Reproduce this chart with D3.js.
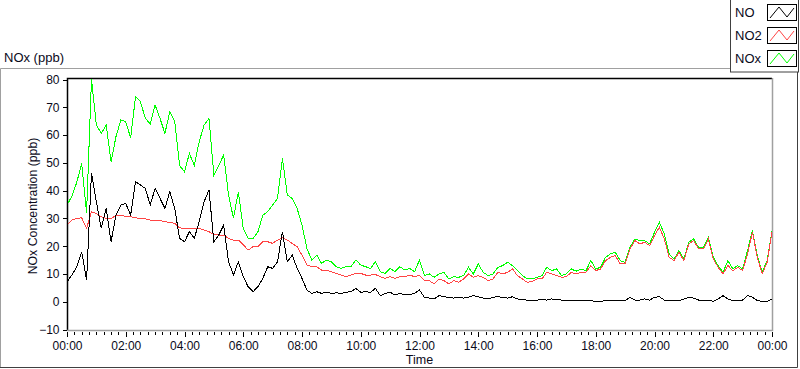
<!DOCTYPE html>
<html>
<head>
<meta charset="utf-8">
<script src="https://cdn.jsdelivr.net/npm/d3@7"></script>
<style>
  html, body { margin: 0; padding: 0; background: #fff; }
  svg { display: block; font-family: "Liberation Sans", Arial, sans-serif; }
  .tick text { font-size: 12px; fill: #0a0a1a; }
</style>
</head>
<body>
<svg id="chart" width="800" height="369"></svg>
<script>
'use strict';

// readings every 10 minutes, 00:00 -> 24:00
const stepMin = 10;

const noValues = [
    7.2, 9.6, 12.6, 18, 7.8, 46.2, 36, 26.4, 33.6, 21.6,
    31.2, 34.8, 35.4, 31.2, 43.2, 42, 40.8, 34.8, 40.8, 37.2,
    33.6, 39.6, 33.6, 22.8, 21.6, 25.2, 22.8, 28.8, 36, 40.2,
    21.6, 24, 27.6, 14.4, 9.6, 14.4, 9,
    5.4, 3.6, 5.4, 8.4, 12.6, 12, 14.4, 25.2, 14.4, 16.8,
    12, 8.4, 4.2, 3, 3.6, 3, 3.4, 3, 3.2, 3,
    3.4, 3.6, 4.8, 3.4, 3.6, 3.4, 4.8, 2.2, 3, 3.4,
    2.4, 3, 2.4, 2.6, 3, 4.2,
    1.6, 1.3, 1, 2.2, 1.8, 1.6, 1.3, 1.6, 1.3, 1.6,
    2.2, 1.8, 1.3, 1, 1.6, 1.8, 1.6, 1.3, 1.8, 1,
    0.7, 0.6, 0.4, 0.6, 0.7, 0.6, 1, 0.7, 0.6, 0.4,
    0.4, 0.6, 0.4, 0.6, 0.4, 0.1,
    0.1, 0.4, 0.4, 0.6, 0.4, 0.4, 1.6, 0.6, 0.6, 1,
    0.6, 1.6, 1.8, 0.6, 0.4, 0.6, 0.4, 1, 1.6, 1.3,
    0.6, 0.6, 0.6, 0.1, 1, 2.2, 1, 0.4, 0.6, 0.6,
    2.2, 1.6, 0.4, 0.1, 0, 1
];

const no2Values = [
    27.6, 29.4, 30, 30.2, 26.4, 32.4, 31.8, 30.6, 30, 29.8,
    31.2, 31.2, 30.6, 30.6, 30.2, 30, 29.8, 29.4, 29.4, 29.2,
    28.8, 28.6, 28.2, 26.6, 26.4, 26.2, 26.4, 26.4, 25.8, 25.2,
    24.2, 24, 24, 22.8, 22.2, 22.2, 20.5,
    18.6, 19.8, 19.8, 21.6, 21.6, 21, 22.2, 23, 22.2, 21,
    19.8, 16.8, 13.2, 12.6, 12.6, 11.4, 11.4, 10.8, 10.2, 9.6,
    9, 9.6, 10.2, 10.2, 9.6, 9.6, 9.8, 9, 8.4, 9,
    8.4, 9, 9, 9.6, 9, 9.5,
    7.6, 7.6, 6.4, 8.2, 7.6, 6.4, 7.6, 7, 8.2, 10,
    8.8, 9.4, 8.8, 7.6, 8.2, 10.6, 10, 10.6, 11.8, 9.4,
    8.2, 7, 7.3, 8.2, 8.2, 10.6, 10, 9.4, 8.8, 9,
    10.6, 10, 10.6, 10.6, 13, 11.2,
    11.8, 14.8, 16, 16.6, 13.6, 13.6, 19, 22, 20.8, 21.4,
    20.2, 23.8, 26.8, 22.6, 16, 14.8, 17.8, 14.8, 20.8, 22,
    19, 19, 22.6, 15.4, 12.4, 10, 13, 11.2, 12.4, 11.2,
    17.2, 25, 16, 10, 14.2, 25
];

const noxValues = [
    34.8, 38, 43, 49.8, 32, 80, 63.6, 60.6, 63.6, 50.4,
    59.4, 65.4, 64.8, 59, 73.8, 72, 66, 64, 70.8, 66,
    60.6, 68.4, 64.8, 49, 46.8, 53.4, 49, 57.6, 63.6, 66,
    45.6, 49, 52.8, 38.4, 30, 39.6, 26.4,
    22.8, 22.8, 25.2, 31.2, 32.4, 34.8, 37.2, 51.6, 38.4, 37.2,
    33.6, 27.6, 19.2, 15, 16.8, 13.8, 15, 14.4, 12.6, 12,
    12.6, 12.6, 15, 13.2, 12.6, 12, 14.4, 10.8, 10.2, 12,
    10.8, 12.6, 11.4, 12, 10.8, 15,
    9.4, 10, 8.8, 10, 10.6, 8.2, 9, 8.8, 9.4, 12.4,
    10, 13.6, 10.6, 9.4, 10, 12.4, 13, 14.2, 13, 11.2,
    9.4, 8.2, 8.2, 8.8, 9.4, 12.4, 11.2, 11.8, 9.4, 10,
    11.8, 11, 11.8, 11.2, 14.8, 11.8,
    12.4, 16, 17.2, 17.8, 14.8, 14.2, 19.6, 22.6, 22, 22,
    20.8, 25, 28.6, 24.4, 17.2, 15.4, 18.4, 15.4, 21.4, 22.6,
    19.6, 19.6, 23.2, 16, 13, 10.6, 14.8, 11.8, 13, 11.8,
    18.4, 25.6, 16.6, 10.6, 14.8, 25.6
];

const seriesNames = ['NO', 'NO2', 'NOx'];
const seriesColors = ['#000000', '#ff4444', '#00ff00'];

const yTicks = [-10, 0, 10, 20, 30, 40, 50, 60, 70, 80];
const xTickLabels = ['00:00', '02:00', '04:00', '06:00', '08:00', '10:00', '12:00',
                     '14:00', '16:00', '18:00', '20:00', '22:00', '00:00'];

let svg = d3.select('#chart'),
    plotLeft = 67, plotRight = 772, plotTop = 78, plotBottom = 330,
    textColor = '#0a0a1a';

let xScale = d3.scaleLinear().domain([0, 1440]).range([plotLeft, plotRight]),
    yScale = d3.scaleLinear().domain([-10, 80]).range([329.5, 79.5]);

// outer panel frame
svg.append('path')
    .attr('d', 'M0.5,367 V68.5 H730')
    .attr('fill', 'none').attr('stroke', '#a0a0a0');
svg.append('path')
    .attr('d', 'M0,367.5 H797.5 V72')
    .attr('fill', 'none').attr('stroke', '#404040');

// plot frame
svg.append('rect')
    .attr('x', plotLeft).attr('y', plotTop)
    .attr('width', plotRight - plotLeft).attr('height', plotBottom - plotTop)
    .attr('fill', '#fff');
svg.append('path')
    .attr('d', `M${plotLeft + 0.5},${plotBottom} V${plotTop + 0.5} H${plotRight}`)
    .attr('fill', 'none').attr('stroke', '#000').attr('stroke-width', 1.5);
svg.append('path')
    .attr('d', `M${plotLeft},${plotBottom + 0.5} H${plotRight + 0.5} V${plotTop}`)
    .attr('fill', 'none').attr('stroke', '#a0a0a0').attr('stroke-width', 1.5);

// y axis
let yAxis = svg.append('g')
    .attr('transform', `translate(${plotLeft - 0.5},0)`)
    .call(d3.axisLeft(yScale).tickValues(yTicks).tickSize(4).tickPadding(3));
yAxis.select('.domain').remove();
yAxis.selectAll('.tick line').attr('stroke', '#000');

// x axis: minor every 15 min, major every 2 h
let minorTicks = d3.range(0, 1441, 15).filter(m => m % 120 !== 0);
let minorAxis = svg.append('g')
    .attr('transform', `translate(0,${plotBottom + 2})`)
    .call(d3.axisBottom(xScale).tickValues(minorTicks).tickSize(3).tickFormat(''));
minorAxis.select('.domain').remove();

let majorAxis = svg.append('g')
    .attr('transform', `translate(0,${plotBottom + 2})`)
    .call(d3.axisBottom(xScale)
        .tickValues(xTickLabels.map((d, i) => i * 120))
        .tickSize(5).tickPadding(4)
        .tickFormat((d, i) => xTickLabels[i]));
majorAxis.select('.domain').remove();
svg.selectAll('.tick line').attr('shape-rendering', 'crispEdges');

// labels
svg.append('text')
    .attr('x', 4).attr('y', 62)
    .attr('font-size', 13).attr('fill', textColor)
    .text('NOx (ppb)');

svg.append('text')
    .attr('transform', `translate(37,${(plotTop + plotBottom) / 2 + 2}) rotate(-90)`)
    .attr('text-anchor', 'middle')
    .attr('font-size', 12.3).attr('fill', textColor)
    .text('NOx Concentration (ppb)');

svg.append('text')
    .attr('x', (plotLeft + plotRight) / 2).attr('y', 364)
    .attr('text-anchor', 'middle')
    .attr('font-size', 12.5).attr('fill', textColor)
    .text('Time');

// data lines
svg.append('clipPath').attr('id', 'plot-clip')
    .append('rect')
    .attr('x', plotLeft + 1).attr('y', plotTop + 1)
    .attr('width', plotRight - plotLeft - 1).attr('height', plotBottom - plotTop - 1);

let line = d3.line()
    .x((d, i) => xScale(i * stepMin))
    .y(d => yScale(d));

let lines = svg.append('g').attr('clip-path', 'url(#plot-clip)');
[[noxValues, 2], [no2Values, 1], [noValues, 0]].forEach(([vals, k]) => {
    lines.append('path')
        .datum(vals)
        .attr('d', line)
        .attr('fill', 'none')
        .attr('stroke', seriesColors[k])
        .attr('stroke-width', 1)
        .attr('shape-rendering', 'crispEdges');
});

// legend
let legend = svg.append('g');
legend.append('rect')
    .attr('x', 730.5).attr('y', -1)
    .attr('width', 68).attr('height', 73)
    .attr('fill', '#fff').attr('stroke', '#404040');

let zig = d3.line();
seriesNames.forEach((name, i) => {
    let top = 4 + i * 23;
    legend.append('text')
        .attr('x', 735).attr('y', top + 13)
        .attr('font-size', 13).attr('fill', textColor)
        .text(name);
    legend.append('rect')
        .attr('x', 767.5).attr('y', top + 0.5)
        .attr('width', 29).attr('height', 16)
        .attr('fill', '#fff').attr('stroke', '#000');
    legend.append('path')
        .attr('d', zig([[770, top + 14], [779, top + 3], [787, top + 13], [794, top + 4]]))
        .attr('fill', 'none')
        .attr('stroke', seriesColors[i]);
});
</script>
</body>
</html>
